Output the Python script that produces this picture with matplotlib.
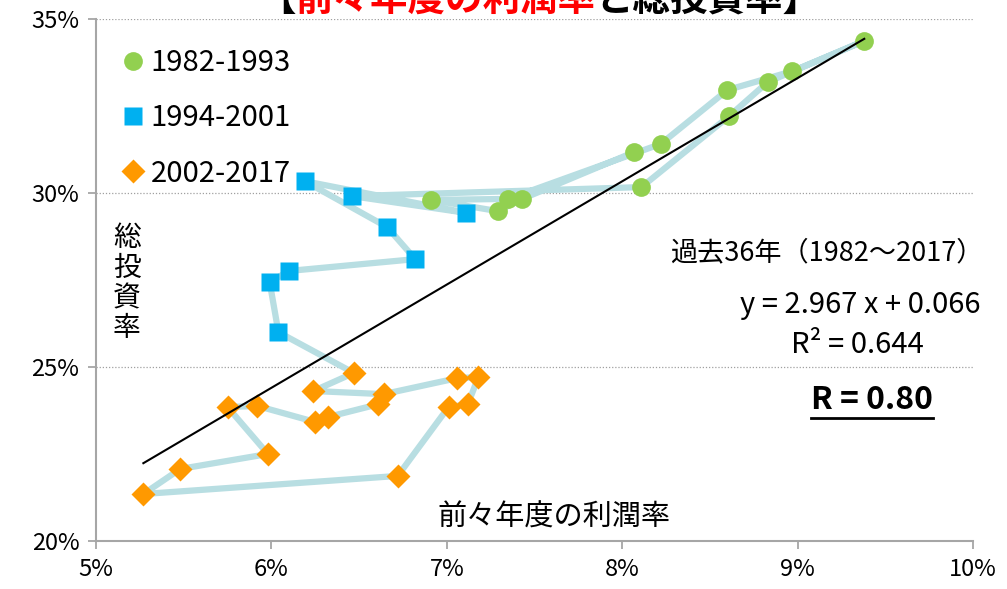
import matplotlib
matplotlib.use('Agg')
import matplotlib.pyplot as plt
from matplotlib.lines import Line2D
import numpy as np

# ---- data in chronological order (profit rate two years earlier [%], total investment rate [%]) ----
labels = ['1982-1993', '1994-2001', '2002-2017']
profit_g = [8.07, 7.43, 7.29, 6.91, 7.35, 8.22, 8.60, 8.97, 9.38, 8.83, 8.61, 8.11]
invest_g = [31.18, 29.83, 29.48, 29.80, 29.83, 31.41, 32.96, 33.50, 34.37, 33.19, 32.21, 30.17]
profit_b = [6.46, 7.11, 6.19, 6.66, 6.82, 6.10, 5.99, 6.04]
invest_b = [29.91, 29.43, 30.34, 29.02, 28.10, 27.76, 27.44, 26.00]
profit_o = [6.47, 6.24, 6.64, 7.06, 7.18, 7.12, 7.01, 6.72, 5.27, 5.48, 5.98, 5.75, 5.92, 6.25, 6.32, 6.61]
invest_o = [24.83, 24.31, 24.22, 24.68, 24.71, 23.93, 23.85, 21.87, 21.35, 22.07, 22.50, 23.85, 23.88, 23.42, 23.56, 23.93]
fit_slope = 2.967
fit_intercept = 0.066
x_ticks = [5, 6, 7, 8, 9, 10]
y_ticks = [20, 25, 30, 35]

plt.rcParams['font.family'] = ['Noto Sans CJK JP', 'DejaVu Sans']

C_G, C_B, C_O = '#92D050', '#00B0F0', '#FF9900'
C_PATH = '#B8DEE2'

fig = plt.figure(figsize=(10.07, 5.89), dpi=100)
ax = fig.add_axes([96 / 1007, 1 - 541 / 589, (973 - 96) / 1007, (541 - 19) / 589])

all_x = profit_g + profit_b + profit_o
all_y = invest_g + invest_b + invest_o
ax.plot(all_x, all_y, color=C_PATH, lw=4.5, zorder=2, solid_joinstyle='round')

ax.plot(profit_g, invest_g, 'o', ms=13.5, color=C_G, mec='none', zorder=3)
ax.plot(profit_b, invest_b, 's', ms=13, color=C_B, mec='none', zorder=3)
ax.plot(profit_o, invest_o, 'D', ms=12, color=C_O, mec='none', zorder=3)

xf = np.array([min(all_x), max(all_x)])
yf = fit_slope * xf + fit_intercept * 100
ax.plot(xf, yf, color='black', lw=1.5, zorder=4)

ax.set_xlim(5, 10)
ax.set_ylim(20, 35)
ax.set_xticks(x_ticks)
ax.set_yticks(y_ticks)
ax.set_xticklabels([f'{v}%' for v in x_ticks])
ax.set_yticklabels([f'{v}%' for v in y_ticks])
ax.tick_params(axis='both', labelsize=17, direction='out', length=6, width=1.3,
               color='#a6a6a6', pad=6)
for s in ['top', 'right']:
    ax.spines[s].set_visible(False)
for s in ['left', 'bottom']:
    ax.spines[s].set_color('#a6a6a6')
    ax.spines[s].set_linewidth(1.5)
ax.yaxis.grid(True, linestyle=(0, (1, 1.5)), color='#a0a0a0', lw=0.9)
ax.set_axisbelow(True)

handles = [Line2D([], [], marker='o', ls='none', color=C_G, ms=13.5, mec='none'),
           Line2D([], [], marker='s', ls='none', color=C_B, ms=13, mec='none'),
           Line2D([], [], marker='D', ls='none', color=C_O, ms=12, mec='none')]
ax.legend(handles, labels, loc='upper left', bbox_to_anchor=(0.016, 0.966),
          frameon=False, fontsize=21, handlelength=0.8, handletextpad=0.2,
          labelspacing=0.86, borderaxespad=0)

ax.text(0.035, 0.494, '総\n投\n資\n率', transform=ax.transAxes, fontsize=20,
        ha='center', va='center', linespacing=1.0)
ax.text(0.522, 0.045, '前々年度の利潤率', transform=ax.transAxes, fontsize=21,
        ha='center', va='center')
ax.text(1.012, 0.553, '過去36年（1982〜2017）', transform=ax.transAxes, fontsize=19.5,
        ha='right', va='center')
ax.text(0.871, 0.453, 'y = 2.967 x + 0.066', transform=ax.transAxes, fontsize=21,
        ha='center', va='center')
ax.text(0.868, 0.376, 'R² = 0.644', transform=ax.transAxes, fontsize=21,
        ha='center', va='center')
rt = ax.text(0.885, 0.27, 'R = 0.80', transform=ax.transAxes, fontsize=23,
             fontweight='bold', ha='center', va='center')

# title (mixed colours), partly cut at the top as in the original
t1 = fig.text(258 / 1007, 1 + 1 / 589, '【', fontsize=27, fontweight='bold',
              ha='left', va='center', color='black')
t2 = ax.annotate('前々年度の利潤率', xy=(1, 0), xycoords=t1, va='bottom', ha='left',
                 fontsize=27, fontweight='bold', color='#FF0000', annotation_clip=False)
t3 = ax.annotate('と総投資率】', xy=(1, 0), xycoords=t2, va='bottom', ha='left',
                 fontsize=27, fontweight='bold', color='black', annotation_clip=False)

fig.canvas.draw()
bb = rt.get_window_extent()
inv = fig.transFigure.inverted()
(x0, y0), (x1, _) = inv.transform([[bb.x0, bb.y0], [bb.x1, bb.y0]])
fig.add_artist(Line2D([x0, x1], [y0 - 0.004, y0 - 0.004], color='black', lw=2,
                      transform=fig.transFigure))

fig.savefig('out.png', dpi=100)
